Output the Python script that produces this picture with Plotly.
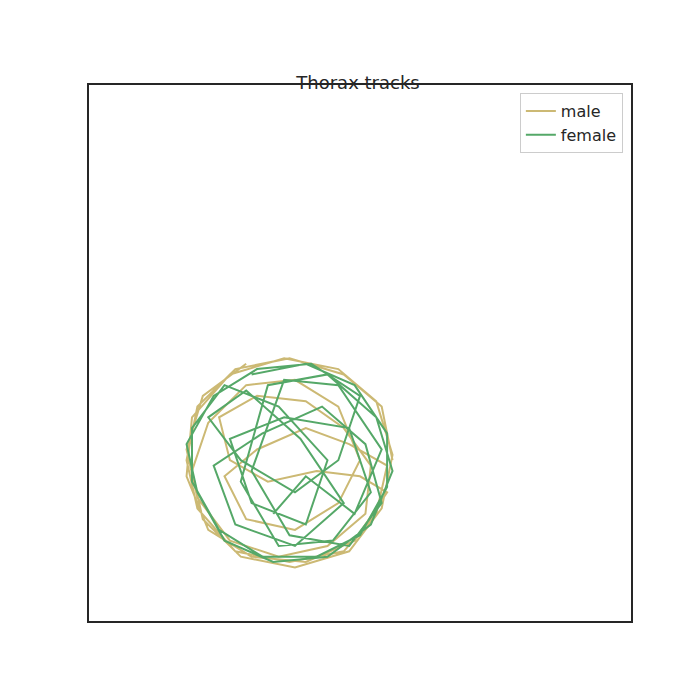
import plotly.graph_objects as go

# thorax positions (arbitrary units, 0-100 box)
male_x = [56, 54, 47, 37, 27, 20, 18, 20, 27, 37,
          47, 53, 55, 48, 40, 31, 25, 29, 38, 46,
          50, 46, 38, 29, 22, 19, 21, 28, 38, 48,
          54, 56, 53, 46, 36, 26, 19, 18, 22, 30,
          40, 49, 55, 50, 42, 33, 26, 24, 31, 40,
          47, 52, 51, 44, 35, 26, 20, 18, 21, 29]
male_y = [30, 40, 46, 49, 47, 40, 30, 21, 13, 11,
          13, 20, 29, 33, 36, 32, 27, 19, 17, 22,
          30, 40, 45, 44, 37, 28, 19, 12, 10, 13,
          21, 31, 41, 47, 49, 46, 38, 27, 17, 12,
          11, 15, 24, 27, 28, 26, 30, 38, 42, 41,
          36, 29, 20, 14, 12, 15, 23, 32, 42, 48]

female_x = [30, 40, 49, 55, 55, 50, 42, 32, 24, 19,
            19, 25, 35, 44, 40, 30, 26, 36, 48, 52,
            45, 35, 28, 33, 44, 53, 56, 52, 44, 34,
            25, 20, 18, 23, 31, 41, 50, 46, 38, 28,
            22, 29, 39, 47, 38, 27, 23, 32, 43, 51,
            54, 48, 37, 30, 36, 46, 54, 49, 40, 34]
female_y = [46, 48, 44, 35, 25, 16, 12, 12, 17, 26,
            36, 44, 40, 30, 18, 22, 34, 38, 36, 24,
            15, 14, 26, 44, 46, 38, 28, 18, 12, 11,
            15, 24, 33, 42, 47, 48, 42, 30, 24, 30,
            38, 43, 34, 22, 14, 18, 29, 35, 40, 33,
            22, 14, 16, 28, 45, 44, 32, 20, 27, 20]

fig = go.Figure()
fig.add_trace(go.Scatter(x=male_x, y=male_y, mode="lines", name="male",
                         line=dict(color="#ccb974", width=2)))
fig.add_trace(go.Scatter(x=female_x, y=female_y, mode="lines", name="female",
                         line=dict(color="#55a868", width=2)))

fig.update_layout(
    width=700, height=700,
    margin=dict(l=81, r=77, t=77, b=87),
    paper_bgcolor="white", plot_bgcolor="white",
    font=dict(family="DejaVu Sans", color="#262626"),
    title=dict(text="Thorax tracks", x=0.5, xanchor="center", y=0.885, yanchor="bottom",
               font=dict(size=18, color="#262626")),
    legend=dict(x=0.985, y=0.985, xanchor="right", yanchor="top",
                bordercolor="#cccccc", borderwidth=1, bgcolor="white",
                font=dict(size=16)),
)
fig.update_xaxes(range=[0, 100], showticklabels=False, ticks="", showgrid=False,
                 zeroline=False, showline=True, linecolor="#262626", linewidth=1.5, mirror=True)
fig.update_yaxes(range=[0, 100], showticklabels=False, ticks="", showgrid=False,
                 zeroline=False, showline=True, linecolor="#262626", linewidth=1.5, mirror=True)

fig.write_html("out.html")
